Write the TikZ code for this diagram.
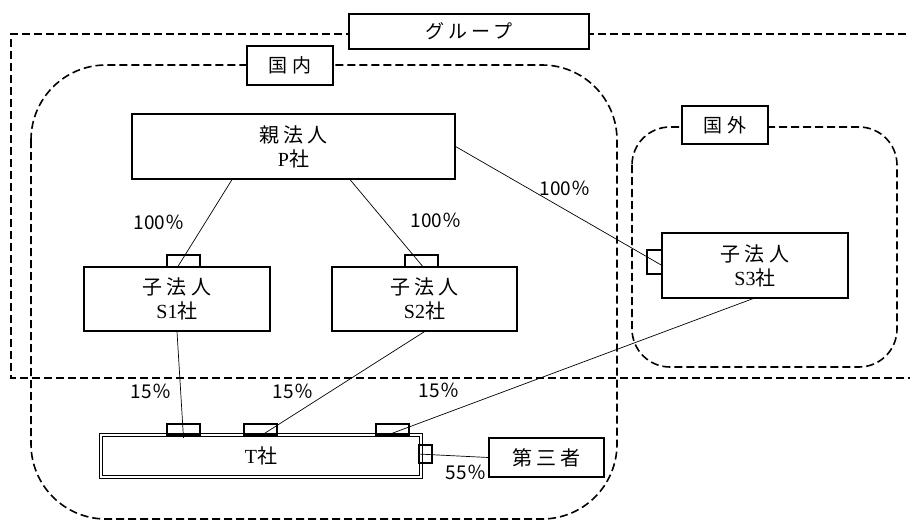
\documentclass[tikz,border=0pt]{standalone}
\usepackage{fontspec}
\setmainfont{Liberation Serif}
\newfontfamily\jp[LetterSpace=22]{Noto Sans CJK JP}
\newfontfamily\jpsans{Noto Sans CJK JP}
\newcommand{\sha}{{\jp 社}}
\usetikzlibrary{shapes,backgrounds}

\begin{document}
\begin{tikzpicture}[x=1pt,y=-1pt,
        zone/.style={draw,dash pattern=on 8pt off 4pt,line width=1.6pt},
        tag/.style={draw,fill=white,line width=1.3pt,inner sep=0pt,
            font=\jp\fontsize{19}{22}\selectfont},
        box/.style={draw,line width=1.2pt,inner sep=0pt,align=center,
            font=\fontsize{20}{24}\selectfont},
        port/.style={draw,line width=1.9pt,inner sep=0pt},
        share/.style={font=\jpsans\fontsize{19}{21}\selectfont},
        link/.style={line width=0.7pt}
        ]
        \useasboundingbox (0,0) rectangle (910,520);
        % Group, domestic and foreign areas
        \draw[zone] (930,34) -- (11,34) -- (11,378) -- (930,378);
        \draw[zone,rounded corners=75pt] (31,65) rectangle (617,519);
        \draw[zone,rounded corners=38pt] (632,127) rectangle (897,367);
        \node[tag,minimum width=240pt,minimum height=35pt] (group) at (469,31.5) {グループ};
        \node[tag,minimum width=86pt,minimum height=39pt] (dom) at (290,65.5) {国内};
        \node[tag,minimum width=86pt,minimum height=38pt] (abr) at (725,125) {国外};

        % Companies
        \node[box,minimum width=323pt,minimum height=65pt] (P) at (293.5,146.5)
            {{\jp 親法人}\\P\sha};
        \node[box,minimum width=186pt,minimum height=64pt] (S1) at (177,299)
            {{\jp 子法人}\\S1\sha};
        \node[box,minimum width=185pt,minimum height=64pt] (S2) at (424.5,299)
            {{\jp 子法人}\\S2\sha};
        \node[box,minimum width=186pt,minimum height=65pt] (S3) at (755,265.5)
            {{\jp 子法人}\\S3\sha};
        \node[box,draw,double,double distance=2pt,line width=0.8pt,
            minimum width=320pt,minimum height=42pt] (T) at (261,456) {T\sha};
        \node[box,minimum width=115pt,minimum height=39pt] (third) at (546.5,457.5)
            {\jp 第三者};

        %% Ports
        \node[port,minimum width=33pt,minimum height=12pt] (s1p) at (183.5,261) {};
        \node[port,minimum width=33pt,minimum height=12pt] (s2p) at (421.5,261) {};
        \node[port,minimum width=15pt,minimum height=24pt] (s3p) at (654.5,262) {};
        \node[port,minimum width=33pt,minimum height=11pt] (t1p) at (183.5,429.5) {};
        \node[port,minimum width=33pt,minimum height=11pt] (t2p) at (260.5,429.5) {};
        \node[port,minimum width=33pt,minimum height=11pt] (t3p) at (392.5,429.5) {};
        \node[port,minimum width=13pt,minimum height=18pt] (t4p) at (425.5,454) {};

        % Holdings
        \draw[link] ([xshift=-61.5pt]P.south) -- ([xshift=-6.5pt]s1p.south);
        \draw[link] ([xshift=56.5pt]P.south) -- ([xshift=2.5pt]s2p.south);
        \draw[link] (P.east) -- ([yshift=-4pt]s3p.east);
        \draw[link] (S1.south) -- ([yshift=-2pt]t1p.south);
        \draw[link] (S2.south) -- (t2p.south);
        \draw[link] ([xshift=-2pt]S3.south) -- ([xshift=-7.5pt]t3p.south);
        \draw[link] (t4p.west) -- (third.west);

        %% Shares
        \node[share] (ps1) at (159,222) {100％};
        \node[share] (ps2) at (436,220) {100％};
        \node[share] (ps3) at (565,188) {100％};
        \node[share] (st1) at (151,391) {15％};
        \node[share] (st2) at (293,391) {15％};
        \node[share] (st3) at (439,390) {15％};
        \node[share] (xt) at (466,472) {55％};
    \end{tikzpicture}
\end{document}
